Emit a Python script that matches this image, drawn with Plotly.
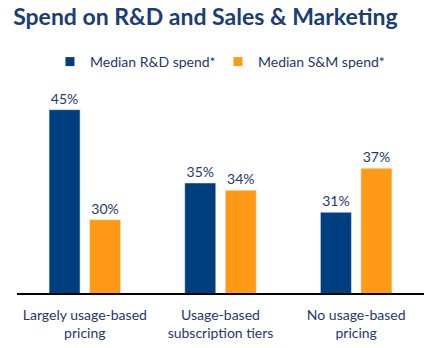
import plotly.graph_objects as go

categories = ["Largely usage-based<br>pricing", "Usage-based<br>subscription tiers", "No usage-based<br>pricing"]
rd_spend = [45, 35, 31]
sm_spend = [30, 34, 37]
series_names = ["Median R&D spend*", "Median S&M spend*"]

NAVY = "#003f7f"
ORANGE = "#ff9a17"
TEXT = "#25386e"
FONT = "Lato"

fig = go.Figure()
for name, vals, color in [(series_names[0], rd_spend, NAVY), (series_names[1], sm_spend, ORANGE)]:
    fig.add_trace(go.Bar(
        x=categories, y=vals, name=name, marker_color=color, showlegend=False,
        text=[f"{v}%" for v in vals], textposition="outside", cliponaxis=False,
        textfont=dict(family=FONT, size=14, color=TEXT),
    ))
    # legend entry with a small square swatch
    fig.add_trace(go.Scatter(
        x=[None], y=[None], mode="markers", name=name,
        marker=dict(symbol="square", size=9, color=color),
    ))

fig.update_layout(
    width=439, height=348,
    margin=dict(l=17, r=15, t=73, b=55, autoexpand=False),
    paper_bgcolor="white", plot_bgcolor="white",
    barmode="group", bargap=0.403, bargroupgap=0.235,
    title=dict(text="<b>Spend on R&D and Sales & Marketing</b>", x=0.03, xanchor="left",
               y=0.95, yanchor="middle",
               font=dict(family=FONT, size=23, color="#1a3c78")),
    legend=dict(orientation="h", x=0.081, xanchor="left", y=1.05, yanchor="middle",
                font=dict(family=FONT, size=14, color=TEXT),
                itemwidth=30, tracegroupgap=0,
                entrywidth=123, entrywidthmode="pixels"),
    xaxis=dict(showline=True, linecolor="black", linewidth=1.5, ticks="",
               ticklabelstandoff=8, automargin=False,
               tickfont=dict(family=FONT, size=14, color=TEXT), fixedrange=True),
    yaxis=dict(range=[20, 50], visible=False, showgrid=False, fixedrange=True),
)

fig.write_html("out.html")
